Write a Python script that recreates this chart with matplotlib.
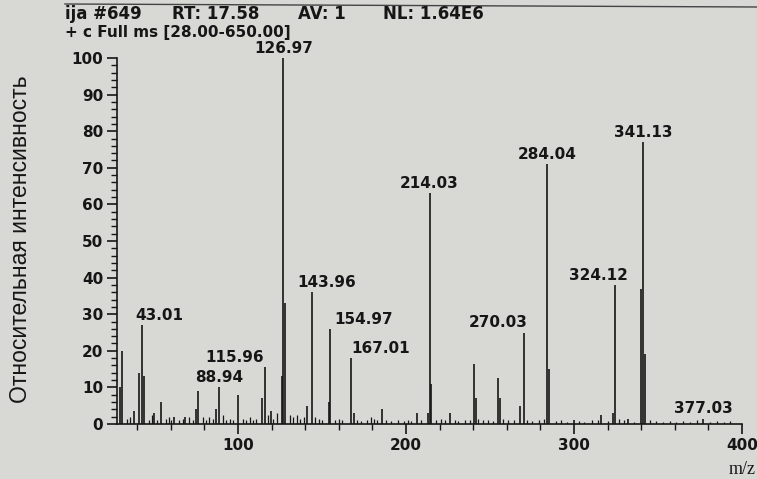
import matplotlib.pyplot as plt
from matplotlib.lines import Line2D
from matplotlib.ticker import MultipleLocator

# Main peaks (m/z, relative intensity %)
peak_mz = [29.5, 31.0, 38.0, 41.0, 43.01, 44.0, 50.0, 54.0, 62.0, 68.5, 75.0, 76.4,
           87.0, 88.94, 100.0, 114.0, 115.96, 119.7, 126.0, 126.97, 128.0, 141.0,
           143.96, 154.0, 154.97, 167.01, 169.0, 185.5, 206.5, 213.0, 214.03, 215.0,
           226.0, 240.7, 241.5, 254.6, 256.0, 268.0, 270.03, 284.04, 285.04, 300.0,
           316.0, 323.0, 324.12, 332.0, 340.1, 341.13, 342.13, 377.03]
peak_int = [10, 20, 3.5, 14, 27, 13, 3, 6, 2, 2, 4, 9,
            4, 10, 8, 7, 15.5, 3.5, 13, 100, 33, 5,
            36, 6, 26, 18, 3, 4, 3, 3, 63, 11,
            3, 16.5, 7, 12.5, 7, 5, 25, 71, 15, 1,
            2.5, 3, 38, 1.5, 37, 77, 19, 1.5]

# Baseline grass
noise_mz = [34, 36, 47, 49, 52, 57, 59, 60, 65, 67, 71, 73, 79, 81, 83, 85, 91, 93,
            95, 97, 103, 105, 107, 109, 111, 118, 121, 123, 131, 133, 135, 137, 139,
            146, 148, 150, 158, 160, 162, 171, 173, 177, 179, 181, 183, 188, 191, 195,
            199, 201, 203, 209, 218, 221, 223, 229, 231, 235, 238, 243, 246, 249, 252,
            258, 261, 264, 272, 275, 279, 282, 289, 292, 296, 303, 306, 311, 314, 320,
            327, 330, 336, 345, 349, 353, 357, 361, 365, 369, 373, 381, 385, 389, 393]
noise_int = [1.5, 2, 1.2, 2.5, 1, 1.5, 2, 1.2, 1, 1.5, 2, 1, 1.8, 1.2, 2, 1.5, 2.5, 1,
             1.5, 1.2, 1.5, 1, 2, 1.2, 1.5, 2.5, 1.5, 3, 2.5, 2, 2.5, 1.5, 2,
             2, 1.5, 1.2, 1, 1.5, 1, 1.2, 0.8, 1, 2, 1.5, 1, 1, 0.8, 1.2,
             0.8, 1, 0.8, 1.2, 1, 1.5, 1.2, 1, 0.8, 1, 1.2, 1.5, 1, 1.2, 0.8,
             1.5, 1, 1.2, 1, 0.8, 1.2, 1.5, 0.8, 1, 0.6, 0.8, 0.6, 1, 1.2, 0.8,
             1.5, 1, 0.6, 1, 0.8, 0.6, 0.8, 0.6, 0.8, 0.6, 1, 0.6, 0.8, 0.6, 0.8]

# Labelled peaks and label shifts (m/z units)
label_mz = [43.01, 88.94, 115.96, 126.97, 143.96, 154.97, 167.01, 214.03,
            270.03, 284.04, 324.12, 341.13, 377.03]
label_int = [27, 10, 15.5, 100, 36, 26, 18, 63, 25, 71, 38, 77, 1.5]
label_dx = [10, 0, -18, 0, 9, 20, 18, 0, -15, 0, -9.5, 0, 0]

# Scan header, split in its fields
header = ["ija #649", "RT: 17.58", "AV: 1", "NL: 1.64E6"]
header_x = [65, 172, 298, 383]
scan_filter = "+ c Full ms [28.00-650.00]"

bg = '#d8d8d5'
ink = '#161616'
W, H = 757, 479

fig = plt.figure(figsize=(7.57, 4.79), dpi=100, facecolor=bg)
ax = fig.add_axes([0.1546, 0.1148, 0.8256, 0.7641], facecolor=bg)

ax.vlines(noise_mz, 0, noise_int, color=ink, lw=0.9)
ax.vlines(peak_mz, 0, peak_int, color=ink, lw=1.2)

for mz, h, dx in zip(label_mz, label_int, label_dx):
    ax.annotate(f"{mz:.2f}", (mz + dx, h), xytext=(0, 1.5), textcoords='offset points',
                ha='center', va='bottom', fontsize=11, fontweight='bold',
                family='DejaVu Sans', color=ink, annotation_clip=False)

ax.set_xlim(28, 400)
ax.set_ylim(0, 100)
ax.spines['top'].set_visible(False)
ax.spines['right'].set_visible(False)
for s in ('left', 'bottom'):
    ax.spines[s].set_color(ink)
    ax.spines[s].set_linewidth(1.2)

ax.set_xticks([100, 200, 300, 400])
ax.set_xticklabels(['100', '200', '300', '400'])
ax.xaxis.set_minor_locator(MultipleLocator(20))
ax.set_yticks(range(0, 101, 10))
ax.yaxis.set_minor_locator(MultipleLocator(2))
ax.tick_params(which='major', length=7, width=1.2, color=ink, pad=3)
ax.tick_params(which='minor', length=4, width=1.0, color=ink)
for lab in ax.get_xticklabels() + ax.get_yticklabels():
    lab.set_fontsize(11)
    lab.set_fontweight('bold')
    lab.set_family('DejaVu Sans')
    lab.set_color(ink)

fig.text(0.027, 0.50, "Относительная интенсивность", rotation=90, ha='center',
         va='center', fontsize=16.5, family='Liberation Sans', color=ink)
fig.text(0.98, 0.02, "m/z", ha='center', va='center', fontsize=13,
         family='Liberation Serif', color=ink)

for txt, x in zip(header, header_x):
    fig.text(x / W, 1 - 14 / H, txt, ha='left', va='center', fontsize=12,
             fontweight='bold', family='DejaVu Sans', color=ink)
fig.text(65 / W, 1 - 32 / H, scan_filter, ha='left', va='center',
         fontsize=11, fontweight='bold', family='DejaVu Sans', color=ink)
fig.add_artist(Line2D([65 / W, 1.0], [1 - 4 / H, 1 - 7 / H], transform=fig.transFigure,
                      color='#444444', lw=1.0))

fig.savefig('out.png', dpi=100, facecolor=bg)
